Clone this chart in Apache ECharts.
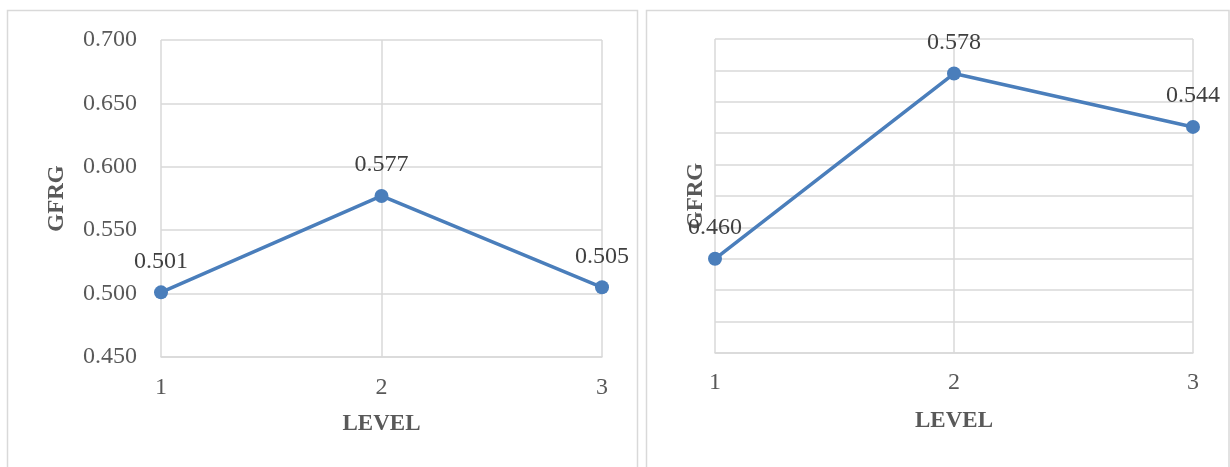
<!DOCTYPE html>
<html>
<head>
<meta charset="utf-8">
<script src="https://cdn.jsdelivr.net/npm/echarts@6/dist/echarts.min.js"></script>
<style>
  html, body { margin: 0; padding: 0; background: #ffffff; }
  #chart { width: 1230px; height: 467px; }
</style>
</head>
<body>
<div id="chart"></div>
<script>
// GFRG by level, two panels
const levels = ['1', '2', '3'];
const gfrgLeft = [0.501, 0.577, 0.505];
const gfrgRight = [0.460, 0.578, 0.544];
const leftTicks = { min: 0.45, max: 0.70, interval: 0.05 };
const rightTicks = { min: 0.40, max: 0.60, interval: 0.02 };
const xTitle = 'LEVEL';
const yTitle = 'GFRG';

const FONT = '"Liberation Serif", "DejaVu Serif", serif';
const GRID_COLOR = '#d9d9d9';
const TEXT_COLOR = '#595959';
const LINE_COLOR = '#4a7ebb';

const chart = echarts.init(document.getElementById('chart'), null, { renderer: 'canvas' });

function xAxisFor(gridIndex, labelMargin, nameGap) {
  return {
    gridIndex,
    type: 'category',
    data: levels,
    boundaryGap: false,
    axisLine: { show: true, lineStyle: { color: GRID_COLOR, width: 1.5 } },
    axisTick: { show: false },
    axisLabel: { color: TEXT_COLOR, fontFamily: FONT, fontSize: 24, margin: labelMargin },
    splitLine: { show: true, lineStyle: { color: GRID_COLOR, width: 1.5 } },
    name: xTitle,
    nameLocation: 'middle',
    nameGap,
    nameTextStyle: { color: TEXT_COLOR, fontFamily: FONT, fontSize: 23, fontWeight: 'bold' }
  };
}

function yAxisFor(gridIndex, ticks, showLabels, nameGap) {
  return {
    gridIndex,
    type: 'value',
    min: ticks.min,
    max: ticks.max,
    interval: ticks.interval,
    axisLine: { show: false },
    axisTick: { show: false },
    axisLabel: {
      show: showLabels,
      color: TEXT_COLOR,
      fontFamily: FONT,
      fontSize: 24,
      margin: 24,
      formatter: v => v.toFixed(3)
    },
    splitLine: { show: true, lineStyle: { color: GRID_COLOR, width: 1.5 } },
    name: yTitle,
    nameLocation: 'middle',
    nameGap,
    nameRotate: 90,
    nameTextStyle: { color: TEXT_COLOR, fontFamily: FONT, fontSize: 23, fontWeight: 'bold' }
  };
}

function seriesFor(index, values) {
  return {
    type: 'line',
    xAxisIndex: index,
    yAxisIndex: index,
    data: values,
    symbol: 'circle',
    symbolSize: 14,
    lineStyle: { color: LINE_COLOR, width: 3.5 },
    itemStyle: { color: LINE_COLOR },
    label: {
      show: true,
      position: 'top',
      distance: 12,
      color: '#404040',
      fontFamily: FONT,
      fontSize: 24,
      formatter: p => p.value.toFixed(3)
    },
    animation: false
  };
}

chart.setOption({
  backgroundColor: '#ffffff',
  animation: false,
  graphic: [
    { type: 'rect', shape: { x: 7.5, y: 10.5, width: 630, height: 480 },
      style: { fill: 'none', stroke: GRID_COLOR, lineWidth: 1.5 }, silent: true },
    { type: 'rect', shape: { x: 646.5, y: 10.5, width: 582.5, height: 480 },
      style: { fill: 'none', stroke: GRID_COLOR, lineWidth: 1.5 }, silent: true }
  ],
  grid: [
    { left: 161, top: 40, width: 441, height: 317 },
    { left: 715, top: 39, width: 478, height: 314 }
  ],
  xAxis: [xAxisFor(0, 19, 56), xAxisFor(1, 18, 57)],
  yAxis: [yAxisFor(0, leftTicks, true, 92), yAxisFor(1, rightTicks, false, 7)],
  series: [seriesFor(0, gfrgLeft), seriesFor(1, gfrgRight)]
});
</script>
</body>
</html>
